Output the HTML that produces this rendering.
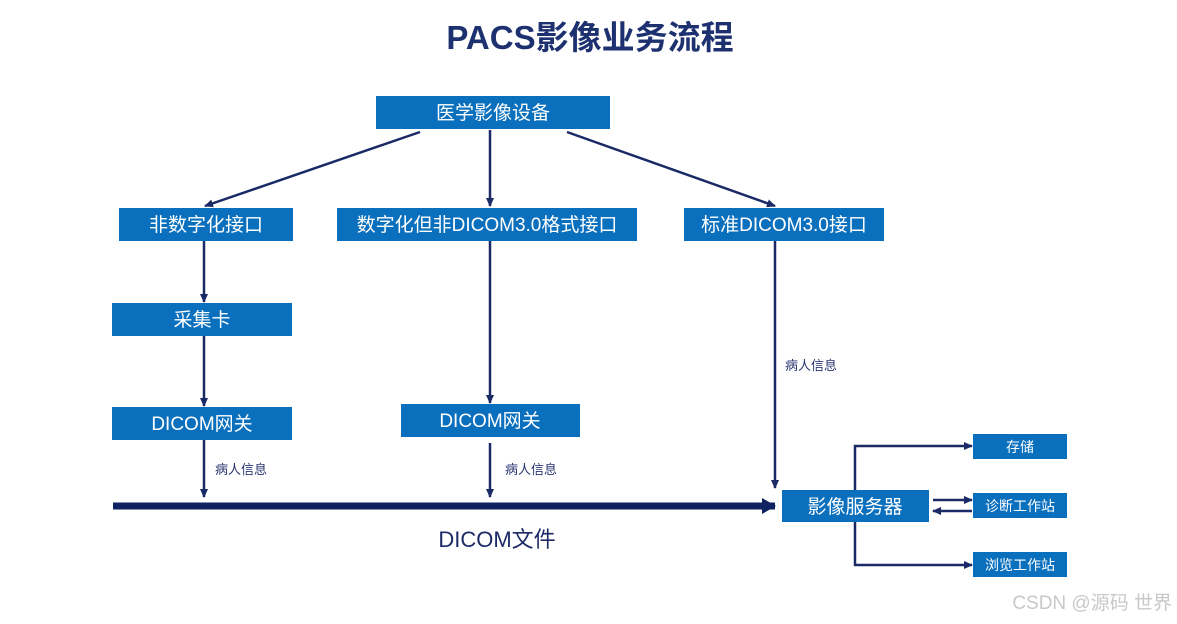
<!DOCTYPE html>
<html><head><meta charset="utf-8"><style>
body{margin:0;background:#fff;}
svg text{font-family:"Liberation Sans","Noto Sans CJK SC",sans-serif;}
</style></head><body>
<svg width="1177" height="619" viewBox="0 0 1177 619" xmlns="http://www.w3.org/2000/svg">
<defs>
<marker id="a" markerWidth="10" markerHeight="10" refX="8" refY="5" orient="auto" markerUnits="userSpaceOnUse"><path d="M0,1 L9,5 L0,9 Z" fill="#1a2a66"/></marker>
<marker id="b" markerWidth="14" markerHeight="16" refX="13" refY="8" orient="auto" markerUnits="userSpaceOnUse"><path d="M0,0 L14,8 L0,16 Z" fill="#0f2360"/></marker>
</defs>
<text x="590" y="49" text-anchor="middle" font-size="33" font-weight="bold" fill="#1d3170">PACS影像业务流程</text>
<g fill="#0a6fbd">
<rect x="376" y="96" width="234" height="33"/>
<rect x="119" y="208" width="174" height="33"/>
<rect x="337" y="208" width="300" height="33"/>
<rect x="684" y="208" width="200" height="33"/>
<rect x="112" y="303" width="180" height="33"/>
<rect x="112" y="407" width="180" height="33"/>
<rect x="401" y="404" width="179" height="33"/>
<rect x="782" y="490" width="147" height="32"/>
<rect x="973" y="434" width="94" height="25"/>
<rect x="973" y="493" width="94" height="25"/>
<rect x="973" y="552" width="94" height="25"/>
</g>
<g fill="#fff" font-size="19" text-anchor="middle">
<text x="493" y="119">医学影像设备</text>
<text x="206" y="231">非数字化接口</text>
<text x="487" y="231">数字化但非DICOM3.0格式接口</text>
<text x="784" y="231">标准DICOM3.0接口</text>
<text x="202" y="326">采集卡</text>
<text x="202" y="430">DICOM网关</text>
<text x="490" y="427">DICOM网关</text>
<text x="855" y="513">影像服务器</text>
<g font-size="14"><text x="1020" y="452">存储</text><text x="1020" y="511">诊断工作站</text><text x="1020" y="570">浏览工作站</text></g>
</g>
<g stroke="#1a2a66" stroke-width="2.5" fill="none" marker-end="url(#a)">
<line x1="420" y1="132" x2="205" y2="206"/>
<line x1="490" y1="130" x2="490" y2="206"/>
<line x1="567" y1="132" x2="775" y2="206"/>
<line x1="204" y1="241" x2="204" y2="302"/>
<line x1="204" y1="336" x2="204" y2="406"/>
<line x1="204" y1="440" x2="204" y2="497"/>
<line x1="490" y1="241" x2="490" y2="403"/>
<line x1="490" y1="443" x2="490" y2="497"/>
<line x1="775" y1="241" x2="775" y2="488"/>
<polyline points="855,490 855,446 972,446"/>
<polyline points="855,522 855,565 972,565"/>
<line x1="933" y1="500" x2="972" y2="500"/>
<line x1="972" y1="511" x2="933" y2="511"/>
</g>
<line x1="113" y1="506" x2="775" y2="506" stroke="#0f2360" stroke-width="7" marker-end="url(#b)"/>
<g fill="#2a3570" font-size="13">
<text x="215" y="474">病人信息</text>
<text x="505" y="474">病人信息</text>
<text x="785" y="370">病人信息</text>
</g>
<text x="497" y="547" text-anchor="middle" font-size="22" fill="#1d2a66">DICOM文件</text>
<text x="1172" y="609" text-anchor="end" font-size="19" fill="#c8c8c8">CSDN @源码 世界</text>
</svg>
</body></html>
